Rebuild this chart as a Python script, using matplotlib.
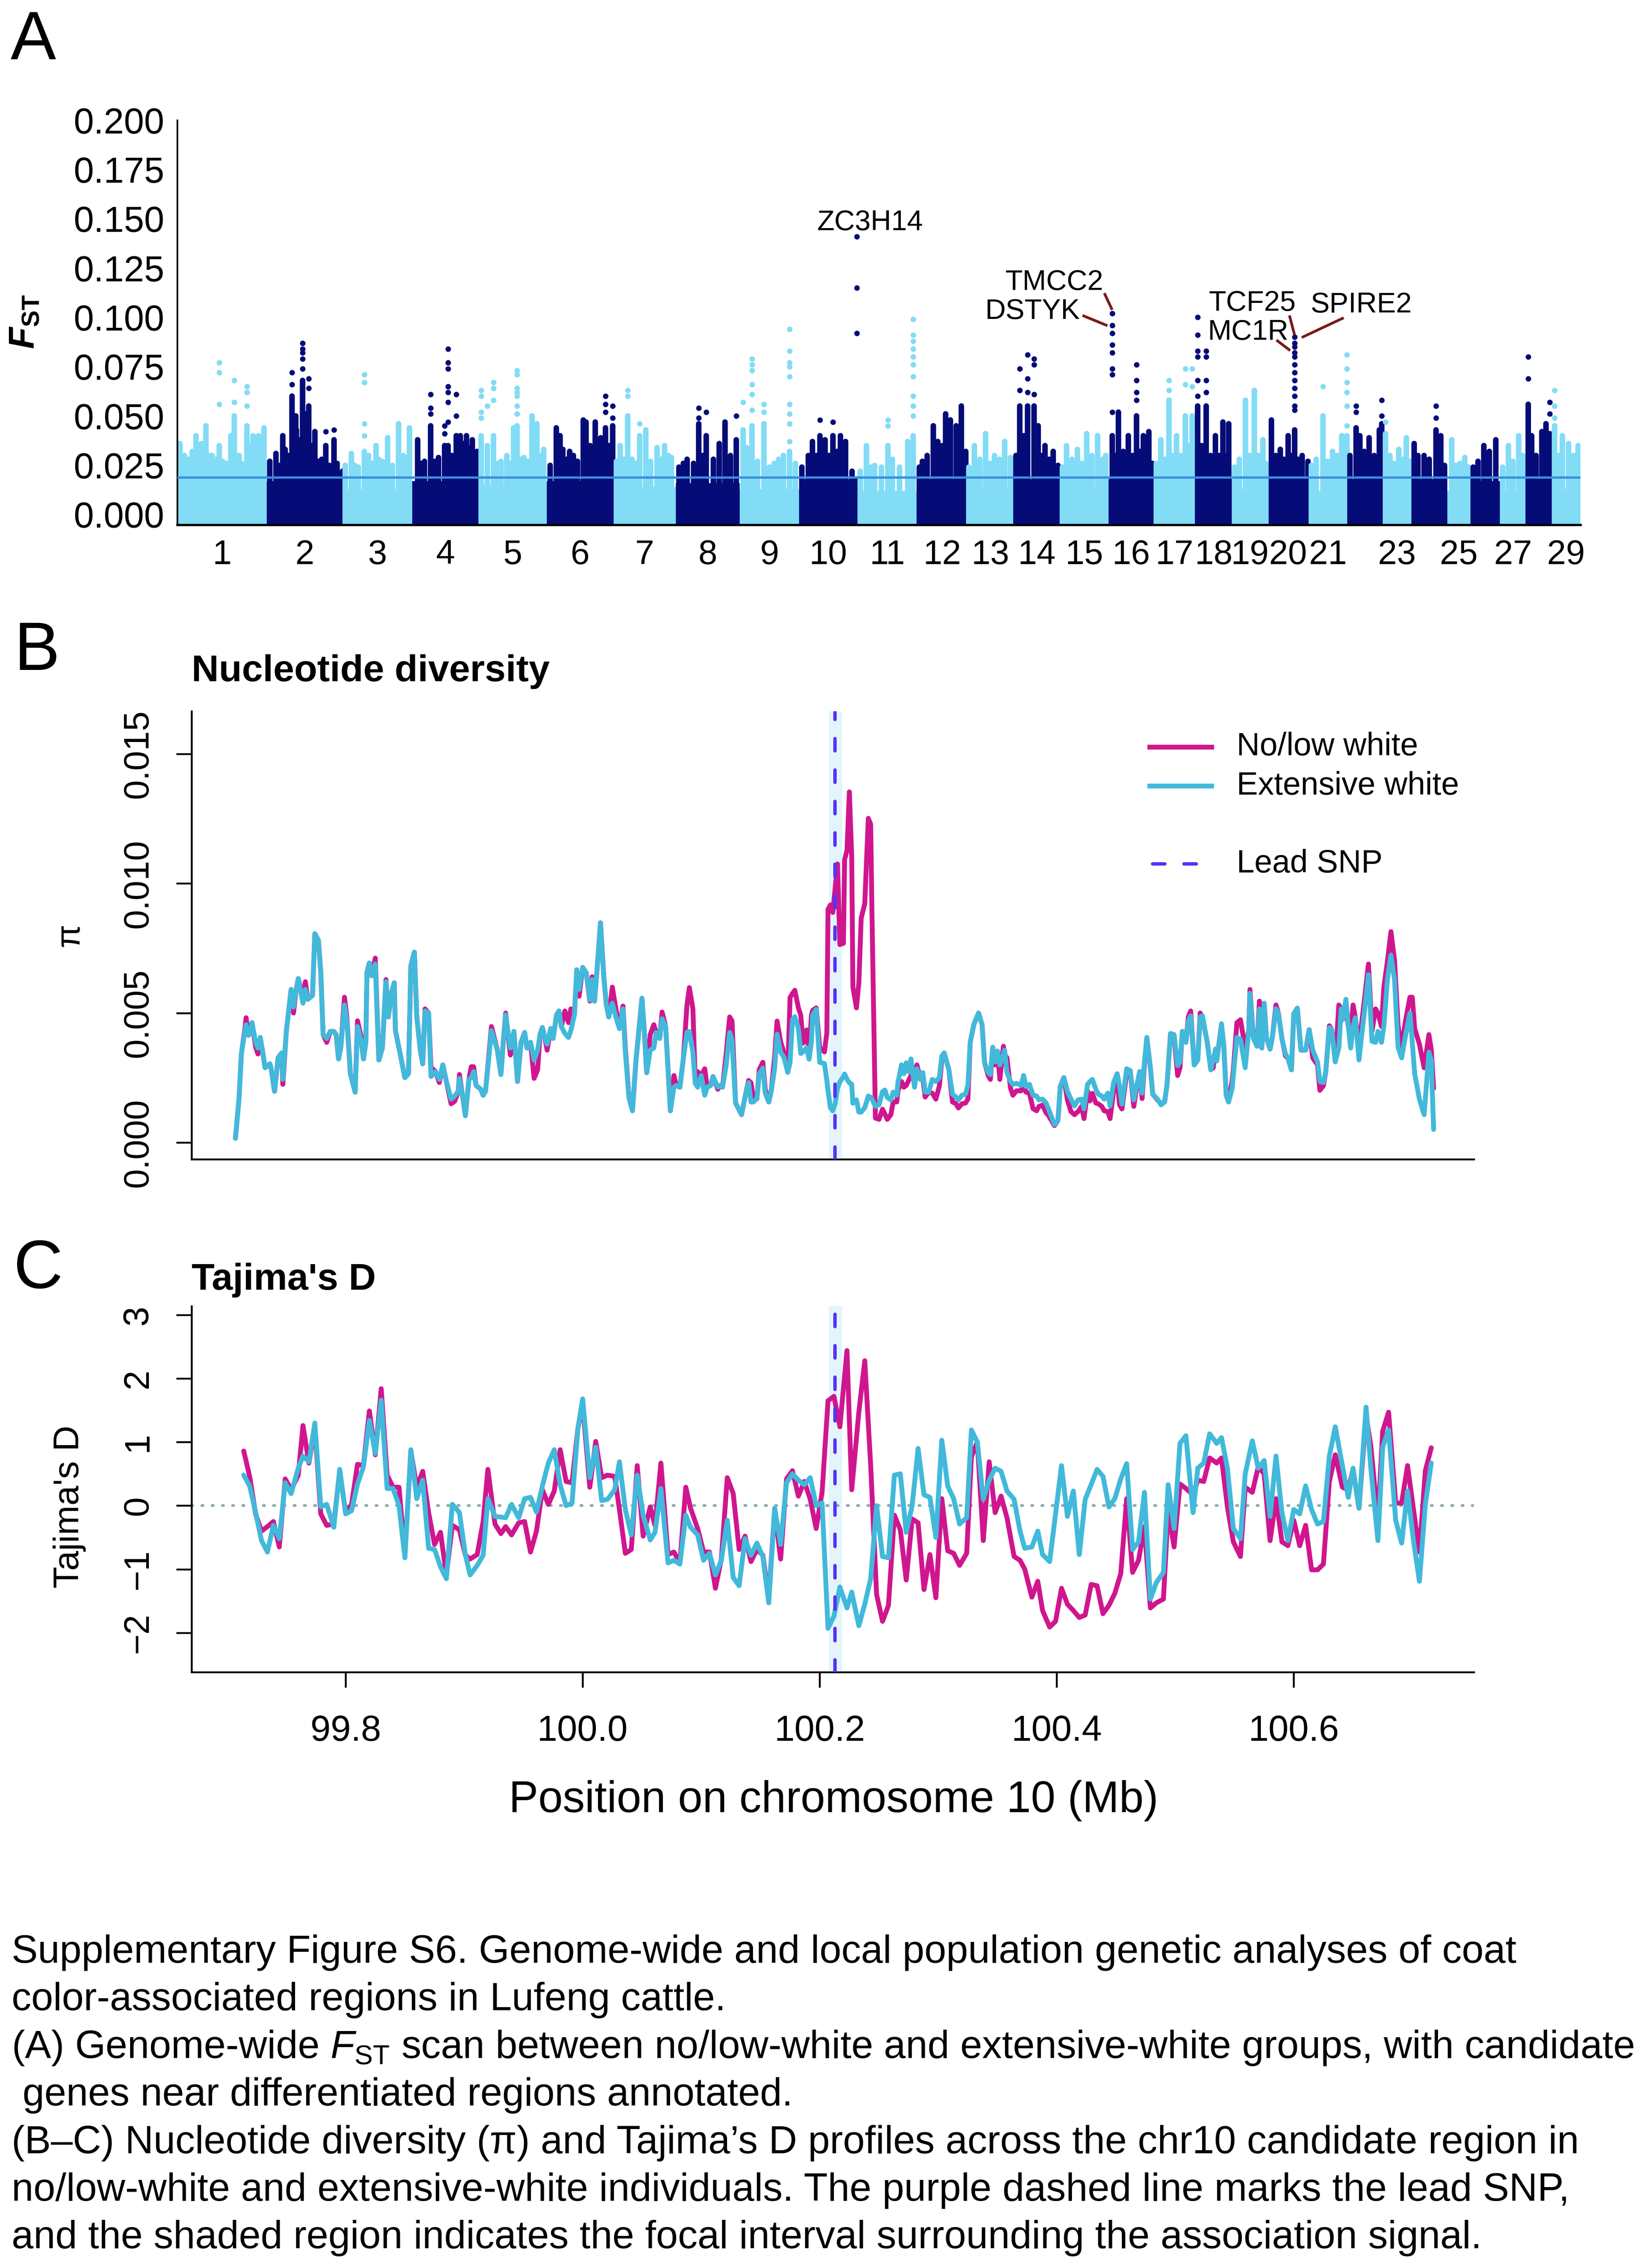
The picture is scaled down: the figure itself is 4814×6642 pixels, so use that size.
import numpy as np
import matplotlib
matplotlib.use("Agg")
import matplotlib.pyplot as plt

plt.rcParams['font.family'] = ['Liberation Sans', 'DejaVu Sans']
plt.rcParams['mathtext.fontset'] = 'custom'
plt.rcParams['mathtext.rm'] = 'Liberation Sans'
plt.rcParams['mathtext.it'] = 'Liberation Sans:italic'
plt.rcParams['mathtext.bf'] = 'Liberation Sans:bold:italic'
plt.rcParams['mathtext.sf'] = 'Liberation Sans:bold'

# ---------------- Panel A data: genome-wide FST ----------------
chr_names = ['1', '2', '3', '4', '5', '6', '7', '8', '9', '10', '11', '12', '13', '14', '15',
             '16', '17', '18', '19', '20', '21', '22', '23', '24', '25', '26', '27', '28', '29']
chr_shown = ['1', '2', '3', '4', '5', '6', '7', '8', '9', '10', '11', '12', '13', '14', '15',
             '16', '17', '18', '19', '20', '21', '23', '25', '27', '29']
chr_len = [158.5, 136.2, 121.0, 120.0, 120.1, 117.8, 110.7, 113.3, 105.5, 103.3, 106.9, 87.2,
           83.5, 82.4, 85.0, 81.0, 73.2, 65.8, 63.4, 71.9, 69.9, 61.0, 52.5, 62.3, 42.4, 52.0,
           45.6, 46.0, 51.1]
chr_base = [0.014, 0.017, 0.013, 0.017, 0.015, 0.017, 0.014, 0.016, 0.013, 0.018, 0.012, 0.018,
            0.013, 0.018, 0.013, 0.018, 0.013, 0.018, 0.013, 0.018, 0.012, 0.018, 0.013, 0.018,
            0.012, 0.017, 0.012, 0.018, 0.013]
fst_threshold = 0.0189

streak_frac = [
    [0.03, 0.08, 0.12, 0.17, 0.21, 0.27, 0.32, 0.36, 0.39, 0.43, 0.47, 0.51, 0.55, 0.60, 0.64, 0.69, 0.72, 0.78, 0.82, 0.85, 0.91, 0.97],
    [0.04, 0.12, 0.17, 0.21, 0.24, 0.28, 0.33, 0.38, 0.39, 0.43, 0.47, 0.50, 0.55, 0.58, 0.63, 0.68, 0.72, 0.77, 0.82, 0.88, 0.92, 0.99],
    [0.03, 0.12, 0.17, 0.22, 0.31, 0.37, 0.42, 0.48, 0.52, 0.57, 0.65, 0.72, 0.81, 0.88, 0.92, 0.97],
    [0.09, 0.14, 0.19, 0.28, 0.35, 0.40, 0.49, 0.54, 0.60, 0.66, 0.72, 0.77, 0.81, 0.86, 0.90, 0.97],
    [0.03, 0.12, 0.21, 0.27, 0.32, 0.41, 0.46, 0.51, 0.56, 0.61, 0.66, 0.72, 0.78, 0.85, 0.90, 0.95],
    [0.05, 0.14, 0.20, 0.24, 0.29, 0.34, 0.40, 0.46, 0.55, 0.59, 0.65, 0.73, 0.81, 0.88, 0.94, 0.99],
    [0.05, 0.11, 0.17, 0.23, 0.30, 0.36, 0.42, 0.52, 0.60, 0.70, 0.76, 0.82, 0.88, 0.93],
    [0.05, 0.12, 0.18, 0.28, 0.36, 0.42, 0.48, 0.59, 0.68, 0.77, 0.86, 0.95],
    [0.06, 0.12, 0.21, 0.30, 0.41, 0.50, 0.58, 0.66, 0.74, 0.84, 0.94],
    [0.05, 0.16, 0.23, 0.30, 0.36, 0.45, 0.52, 0.58, 0.65, 0.71, 0.80, 0.91, 0.99],
    [0.05, 0.15, 0.22, 0.29, 0.40, 0.51, 0.58, 0.70, 0.84, 0.93],
    [0.04, 0.10, 0.20, 0.32, 0.41, 0.50, 0.57, 0.67, 0.79, 0.89, 0.98],
    [0.05, 0.16, 0.28, 0.40, 0.50, 0.59, 0.70, 0.81, 0.93],
    [0.05, 0.13, 0.22, 0.30, 0.44, 0.53, 0.60, 0.67, 0.76, 0.85, 0.95],
    [0.05, 0.13, 0.25, 0.36, 0.45, 0.55, 0.66, 0.78, 0.88, 0.95],
    [0.09, 0.16, 0.23, 0.33, 0.44, 0.53, 0.62, 0.70, 0.77, 0.89, 0.97],
    [0.06, 0.17, 0.27, 0.37, 0.46, 0.55, 0.66, 0.77, 0.85, 0.93],
    [0.07, 0.18, 0.30, 0.42, 0.55, 0.65, 0.75, 0.84, 0.91],
    [0.07, 0.20, 0.37, 0.50, 0.62, 0.75, 0.86, 0.95],
    [0.09, 0.20, 0.31, 0.40, 0.50, 0.58, 0.66, 0.75, 0.85, 0.99],
    [0.08, 0.20, 0.37, 0.48, 0.61, 0.73, 0.85, 0.98],
    [0.06, 0.24, 0.35, 0.48, 0.62, 0.77, 0.92, 0.99],
    [0.11, 0.26, 0.40, 0.56, 0.70, 0.82, 0.94],
    [0.07, 0.18, 0.35, 0.50, 0.69, 0.83, 0.94],
    [0.21, 0.37, 0.55, 0.75, 0.90],
    [0.09, 0.25, 0.45, 0.63, 0.86],
    [0.10, 0.32, 0.50, 0.72, 0.89],
    [0.10, 0.23, 0.40, 0.62, 0.78, 0.93],
    [0.10, 0.25, 0.37, 0.59, 0.75, 0.92],
]
streak_top = [
    [0.036, 0.030, 0.028, 0.032, 0.040, 0.036, 0.045, 0.030, 0.030, 0.028, 0.035, 0.027, 0.026, 0.040, 0.050, 0.030, 0.026, 0.045, 0.035, 0.040, 0.040, 0.044],
    [0.027, 0.031, 0.025, 0.040, 0.033, 0.030, 0.060, 0.050, 0.043, 0.038, 0.068, 0.051, 0.055, 0.035, 0.042, 0.027, 0.028, 0.035, 0.025, 0.038, 0.026, 0.022],
    [0.025, 0.031, 0.025, 0.024, 0.032, 0.030, 0.026, 0.035, 0.028, 0.027, 0.039, 0.025, 0.046, 0.030, 0.029, 0.044],
    [0.038, 0.026, 0.027, 0.045, 0.027, 0.029, 0.035, 0.035, 0.030, 0.040, 0.040, 0.036, 0.040, 0.034, 0.038, 0.032],
    [0.040, 0.035, 0.040, 0.026, 0.027, 0.030, 0.026, 0.044, 0.045, 0.028, 0.029, 0.027, 0.050, 0.046, 0.030, 0.033],
    [0.025, 0.044, 0.040, 0.033, 0.028, 0.032, 0.030, 0.027, 0.048, 0.047, 0.035, 0.047, 0.039, 0.044, 0.035, 0.045],
    [0.027, 0.035, 0.028, 0.050, 0.028, 0.026, 0.040, 0.043, 0.027, 0.034, 0.028, 0.035, 0.030, 0.029],
    [0.024, 0.026, 0.028, 0.026, 0.046, 0.030, 0.040, 0.028, 0.036, 0.047, 0.030, 0.038],
    [0.043, 0.034, 0.045, 0.027, 0.046, 0.024, 0.026, 0.028, 0.030, 0.032, 0.026],
    [0.024, 0.030, 0.037, 0.030, 0.040, 0.038, 0.030, 0.040, 0.032, 0.040, 0.037, 0.022, 0.018],
    [0.022, 0.035, 0.024, 0.025, 0.024, 0.035, 0.028, 0.024, 0.037, 0.040],
    [0.024, 0.027, 0.030, 0.045, 0.037, 0.035, 0.051, 0.048, 0.045, 0.055, 0.032],
    [0.024, 0.035, 0.028, 0.041, 0.026, 0.030, 0.028, 0.037, 0.029],
    [0.030, 0.055, 0.040, 0.055, 0.055, 0.045, 0.030, 0.035, 0.028, 0.032, 0.025],
    [0.024, 0.035, 0.028, 0.033, 0.026, 0.041, 0.030, 0.040, 0.028, 0.030],
    [0.040, 0.030, 0.052, 0.032, 0.040, 0.030, 0.050, 0.032, 0.040, 0.042, 0.026],
    [0.026, 0.038, 0.028, 0.058, 0.030, 0.040, 0.030, 0.050, 0.035, 0.050],
    [0.055, 0.035, 0.055, 0.030, 0.040, 0.030, 0.047, 0.030, 0.046],
    [0.024, 0.028, 0.058, 0.030, 0.063, 0.030, 0.038, 0.026],
    [0.048, 0.030, 0.033, 0.028, 0.040, 0.030, 0.043, 0.028, 0.030, 0.027],
    [0.025, 0.028, 0.050, 0.027, 0.032, 0.030, 0.040, 0.040],
    [0.030, 0.044, 0.040, 0.032, 0.039, 0.030, 0.043, 0.046],
    [0.041, 0.030, 0.026, 0.033, 0.028, 0.039, 0.027],
    [0.036, 0.030, 0.030, 0.028, 0.043, 0.040, 0.025],
    [0.038, 0.025, 0.026, 0.029, 0.024],
    [0.024, 0.027, 0.035, 0.032, 0.038],
    [0.024, 0.035, 0.027, 0.040, 0.030],
    [0.056, 0.040, 0.030, 0.042, 0.046, 0.041],
    [0.045, 0.030, 0.040, 0.036, 0.030, 0.035],
]

# isolated high-FST SNPs (grouped by chromosome / relative position)
out_chr = [1, 1, 1, 2, 2, 2, 2, 2, 3, 4, 4, 4, 4, 5, 5, 5, 5, 6, 6, 7, 7, 8, 8, 8, 9, 9, 9, 9,
           10, 10, 10, 11, 11, 14, 14, 14, 16, 16, 17, 17, 17, 18, 18, 20, 21, 21, 22, 22,
           23, 24, 28, 28, 29]
out_frac = [0.47, 0.64, 0.78, 0.33, 0.47, 0.55, 0.77, 0.88, 0.31, 0.28, 0.49, 0.54, 0.66,
            0.03, 0.12, 0.21, 0.56, 0.88, 0.99, 0.23, 0.42, 0.36, 0.48, 0.95, 0.06, 0.21,
            0.41, 0.84, 0.36, 0.58, 0.995, 0.51, 0.93, 0.13, 0.30, 0.44, 0.09, 0.62, 0.37,
            0.77, 0.93, 0.07, 0.30, 0.66, 0.37, 0.98, 0.24, 0.99, 0.11, 0.69, 0.10, 0.93, 0.10]
out_fst = [
    [0.077, 0.072, 0.056], [0.068, 0.057], [0.065, 0.062, 0.055],
    [0.072, 0.066], [0.087, 0.084, 0.082, 0.079, 0.074], [0.069, 0.064], [0.042], [0.043],
    [0.071, 0.067, 0.046, 0.040],
    [0.061, 0.054, 0.051], [0.045, 0.041], [0.084, 0.077, 0.074, 0.065, 0.062, 0.057, 0.047], [0.061, 0.050],
    [0.063, 0.060, 0.052, 0.049], [0.055], [0.067, 0.064, 0.058], [0.073, 0.071, 0.064, 0.062, 0.060, 0.055, 0.051],
    [0.060, 0.056, 0.052], [0.055, 0.049],
    [0.063, 0.060], [0.046],
    [0.054, 0.049], [0.052], [0.050],
    [0.057], [0.079, 0.076, 0.073, 0.066, 0.061, 0.053], [0.056, 0.052],
    [0.094, 0.083, 0.077, 0.075, 0.070, 0.056, 0.051, 0.046, 0.037],
    [0.048], [0.047], [0.141, 0.115, 0.092],
    [0.048, 0.045], [0.099, 0.091, 0.088, 0.084, 0.080, 0.076, 0.070, 0.060, 0.055, 0.050],
    [0.074, 0.063], [0.081, 0.069, 0.062], [0.079, 0.076, 0.061],
    [0.102, 0.096, 0.092, 0.086, 0.082, 0.074, 0.071, 0.052], [0.076, 0.068, 0.062, 0.058],
    [0.068, 0.063], [0.074, 0.066], [0.074, 0.065],
    [0.100, 0.091, 0.083, 0.080, 0.068, 0.060], [0.083, 0.080, 0.068, 0.062],
    [0.090, 0.087, 0.085, 0.082, 0.080, 0.076, 0.072, 0.068, 0.064, 0.060, 0.055, 0.053],
    [0.065], [0.081, 0.074, 0.067, 0.062, 0.055, 0.045],
    [0.055, 0.052], [0.058, 0.050],
    [0.047], [0.055, 0.049],
    [0.080, 0.069], [0.057, 0.051],
    [0.063, 0.055, 0.049],
]

# gene annotations: target SNP column, text offset (Mb) and leader line
ann_text = ['ZC3H14', 'TMCC2', 'DSTYK', 'TCF25', 'MC1R', 'SPIRE2']
ann_chr = [10, 16, 16, 20, 20, 20]
ann_frac = [0.995, 0.09, 0.09, 0.66, 0.66, 0.66]
ann_text_dx = [23.0, -103.0, -141.7, -75.1, -82.4, 118.1]
ann_text_y = [0.1480, 0.1177, 0.1031, 0.1071, 0.0925, 0.1064]
ann_line = [None, (-13.9, 0.1123, 0.0, 0.1038), (-52.7, 0.1010, -8.5, 0.0958),
            (-9.1, 0.1010, 0.0, 0.0911), (-32.1, 0.0885, -7.9, 0.0832),
            (87.2, 0.0998, 12.7, 0.0898)]

# ---------------- Panel B data: nucleotide diversity (x 1e-3) ----------------
pi_pos = [
    99.707, 99.710, 99.712, 99.715, 99.716, 99.718, 99.720, 99.721, 99.724, 99.726,
    99.728, 99.730, 99.732, 99.736, 99.737, 99.740, 99.743, 99.746, 99.747, 99.750,
    99.754, 99.756, 99.758, 99.760, 99.764, 99.766, 99.768, 99.772, 99.774, 99.777,
    99.779, 99.781, 99.784, 99.787, 99.790, 99.792, 99.794, 99.796, 99.799, 99.801,
    99.804, 99.808, 99.810, 99.813, 99.815, 99.817, 99.818, 99.820, 99.822, 99.825,
    99.828, 99.831, 99.834, 99.836, 99.839, 99.841, 99.842, 99.845, 99.848, 99.850,
    99.853, 99.855, 99.858, 99.860, 99.863, 99.865, 99.867, 99.870, 99.872, 99.876,
    99.879, 99.882, 99.885, 99.889, 99.892, 99.895, 99.896, 99.899, 99.901, 99.904,
    99.906, 99.908, 99.910, 99.914, 99.916, 99.918, 99.923, 99.928, 99.931, 99.933,
    99.935, 99.939, 99.942, 99.945, 99.948, 99.951, 99.953, 99.956, 99.959, 99.962,
    99.964, 99.966, 99.968, 99.970, 99.973, 99.975, 99.978, 99.980, 99.982, 99.985,
    99.988, 99.990, 99.993, 99.995, 99.997, 100.000, 100.003, 100.006, 100.008, 100.010,
    100.013, 100.015, 100.018, 100.020, 100.022, 100.025, 100.028, 100.031, 100.034, 100.036,
    100.039, 100.042, 100.045, 100.050, 100.052, 100.054, 100.057, 100.060, 100.062, 100.065,
    100.067, 100.070, 100.074, 100.077, 100.079, 100.082, 100.085, 100.088, 100.090, 100.093,
    100.095, 100.097, 100.100, 100.103, 100.105, 100.108, 100.110, 100.114, 100.116, 100.118,
    100.121, 100.124, 100.126, 100.129, 100.134, 100.137, 100.140,
    100.142, 100.144, 100.147, 100.149, 100.152, 100.154, 100.157, 100.159, 100.162, 100.164,
    100.167, 100.170, 100.173, 100.175, 100.177, 100.179, 100.182, 100.184, 100.186, 100.189,
    100.191, 100.193, 100.194, 100.197, 100.200, 100.204, 100.206, 100.207, 100.209, 100.211,
    100.213, 100.215, 100.217, 100.220, 100.221, 100.223, 100.225, 100.227, 100.228, 100.231,
    100.233, 100.235, 100.238, 100.241, 100.243, 100.244, 100.247, 100.250, 100.253, 100.255,
    100.257,
    100.260, 100.262, 100.265, 100.266, 100.269, 100.271, 100.273, 100.275, 100.277, 100.280,
    100.282, 100.285, 100.287, 100.289, 100.292, 100.295, 100.298, 100.301, 100.303, 100.305,
    100.309, 100.312, 100.315, 100.317, 100.320, 100.323, 100.325, 100.327, 100.330, 100.334,
    100.337, 100.339, 100.342, 100.344, 100.346, 100.348, 100.350, 100.352, 100.355, 100.356,
    100.358, 100.361, 100.363, 100.366, 100.370, 100.372, 100.374, 100.377, 100.380, 100.383,
    100.385, 100.388, 100.391, 100.393, 100.398, 100.401, 100.403, 100.406, 100.409, 100.412,
    100.415, 100.418, 100.421, 100.423, 100.426, 100.428, 100.430, 100.433, 100.435, 100.438,
    100.440, 100.443, 100.445, 100.448, 100.451, 100.453, 100.455, 100.459, 100.462, 100.465,
    100.467, 100.470, 100.472, 100.474, 100.476, 100.479, 100.481, 100.485, 100.488, 100.491,
    100.493, 100.496, 100.499, 100.502, 100.504, 100.506, 100.509, 100.511, 100.513, 100.516,
    100.519, 100.521, 100.523, 100.526, 100.527, 100.530, 100.532, 100.534, 100.535, 100.537,
    100.539, 100.541, 100.543, 100.545, 100.548, 100.549, 100.552, 100.555, 100.559, 100.562,
    100.563, 100.566, 100.569, 100.571, 100.573, 100.575, 100.577, 100.580, 100.582, 100.585,
    100.587, 100.590, 100.593, 100.595, 100.598, 100.600, 100.603, 100.606, 100.610, 100.613,
    100.616, 100.620, 100.622, 100.625, 100.627, 100.630, 100.632, 100.635, 100.638, 100.640,
    100.641, 100.644, 100.646, 100.648, 100.650, 100.652, 100.655, 100.660, 100.663, 100.666,
    100.669, 100.671, 100.674, 100.676, 100.679, 100.682, 100.685, 100.688, 100.691, 100.694,
    100.698, 100.700, 100.702, 100.706, 100.710, 100.714, 100.716, 100.718,
]
pi_ext = [
    0.17, 1.68, 3.42, 4.32, 4.55, 4.14, 4.32, 4.63, 3.87, 3.65,
    4.06, 3.49, 2.89, 3.04, 2.89, 1.98, 3.27, 3.46, 2.44, 4.32,
    5.91, 5.23, 5.83, 6.33, 5.38, 5.91, 5.53, 5.68, 8.06, 7.80,
    6.59, 4.17, 4.02, 4.29, 4.29, 4.17, 3.23, 3.72, 5.31, 4.70,
    2.66, 1.95, 4.48, 3.95, 3.23, 3.87, 6.59, 6.93, 6.44, 6.89,
    3.19, 3.65, 6.21, 4.85, 5.83, 6.17, 4.32, 3.65, 2.97, 2.51,
    2.66, 6.82, 7.35, 4.85, 3.57, 3.04, 5.08, 5.00, 2.55, 2.74,
    2.44, 3.00, 2.36, 1.68, 1.80, 1.98, 2.48, 1.68, 1.04, 2.44,
    2.51, 2.74, 2.21, 2.06, 1.83, 1.98, 4.32, 3.57, 2.63, 3.87,
    4.93, 3.65, 4.29, 2.36, 3.87, 4.25, 3.65, 3.87, 3.19, 3.57,
    4.17, 4.44, 4.06, 3.80, 4.40, 4.02, 4.93, 5.08, 4.48, 4.21,
    4.06, 4.32, 4.93, 6.67, 5.91, 6.76, 6.55, 5.50, 6.29, 5.46,
    7.19, 8.48, 6.29, 5.31, 4.85, 5.38, 4.85, 4.40, 5.16, 3.49,
    1.76, 1.23, 3.19, 5.57, 4.32, 2.70, 3.57, 3.65, 4.25, 4.02,
    4.78, 4.48, 1.23, 2.14, 2.21, 2.14, 3.27, 4.25, 4.29, 3.49,
    2.29, 2.14, 2.59, 1.83, 2.14, 2.21, 2.55, 2.14, 2.21, 2.14,
    2.97, 4.25, 3.95, 1.53, 1.08, 1.76, 2.32,
    1.57, 1.57, 1.70, 2.65, 2.88, 1.91, 1.57, 1.97, 2.88, 4.18,
    3.50, 3.27, 2.71, 3.10, 4.75, 4.86, 4.41, 3.44, 3.50, 3.67,
    3.22, 3.90, 4.92, 5.14, 3.10, 3.05, 2.40, 2.00, 1.35, 1.23,
    1.50, 2.10, 2.35, 2.55, 2.65, 2.45, 2.31, 2.25, 1.52, 1.65,
    1.18, 1.18, 1.35, 1.80, 1.75, 1.69, 1.40, 1.46, 1.97, 2.03,
    1.74,
    1.65, 1.95, 1.83, 2.32, 3.00, 2.66, 3.08, 2.74, 3.23, 2.14,
    2.85, 2.44, 2.70, 1.95, 1.95, 2.44, 2.36, 2.51, 3.34, 3.46,
    2.81, 1.87, 1.76, 1.65, 1.83, 1.87, 2.21, 3.87, 4.55, 5.00,
    4.55, 3.12, 2.70, 2.63, 3.68, 3.12, 3.53, 3.00, 3.42, 3.57,
    2.70, 2.36, 2.25, 2.29, 2.21, 2.59, 2.17, 2.25, 1.83, 1.80,
    1.65, 1.68, 1.53, 1.31, 0.70, 0.85, 2.17, 2.51, 1.98, 1.68,
    1.42, 1.65, 1.68, 1.31, 2.25, 2.36, 2.44, 2.06, 1.87, 1.80,
    1.68, 1.91, 1.42, 2.32, 2.66, 2.17, 1.49, 2.85, 2.78, 1.65,
    2.10, 2.74, 1.91, 3.12, 4.06, 2.89, 1.87, 1.68, 1.46, 1.57,
    2.21, 4.21, 4.17, 2.97, 3.12, 4.29, 3.87, 4.70, 4.89, 3.00,
    3.19, 4.85, 4.89, 4.10, 3.87, 2.81, 3.19, 3.61, 3.16, 3.87,
    4.59, 3.72, 1.83, 1.57, 2.10, 2.59, 4.06, 3.99, 2.89, 4.32,
    5.76, 4.02, 3.72, 5.16, 3.65, 5.38, 4.02, 3.61, 4.10, 5.16,
    5.00, 4.02, 3.42, 3.27, 2.81, 4.97, 5.19, 3.57, 3.57, 4.36,
    3.57, 3.12, 2.36, 2.32, 2.74, 4.44, 4.36, 3.12, 3.65, 5.16,
    4.74, 5.53, 4.48, 3.65, 4.48, 4.82, 3.19, 5.23, 6.48, 3.91,
    3.87, 4.29, 3.87, 4.48, 6.29, 7.23, 6.29, 3.68, 3.27, 4.06,
    5.00, 3.87, 2.66, 1.68, 1.08, 3.49, 3.19, 0.51,
]
pi_low = [
    0.17, 1.68, 3.42, 4.40, 4.82, 4.14, 4.32, 4.63, 3.70, 3.42,
    4.00, 3.49, 2.89, 3.04, 2.89, 1.98, 3.27, 3.46, 2.25, 4.32,
    5.91, 5.00, 5.83, 6.33, 5.60, 6.21, 5.53, 5.68, 8.06, 7.80,
    6.59, 4.17, 3.87, 4.29, 4.29, 4.17, 3.23, 3.72, 5.61, 4.85,
    2.66, 1.95, 4.70, 4.10, 3.23, 3.87, 6.59, 6.93, 6.44, 7.12,
    3.19, 3.65, 6.29, 4.85, 5.83, 6.17, 4.32, 3.65, 2.97, 2.51,
    2.66, 6.82, 7.35, 4.85, 3.57, 3.04, 5.16, 5.00, 2.90, 2.74,
    2.32, 3.00, 2.36, 1.50, 1.60, 1.98, 2.63, 1.68, 1.04, 2.44,
    2.93, 2.93, 2.21, 2.06, 1.83, 1.98, 4.48, 3.57, 2.63, 3.87,
    5.00, 3.38, 4.29, 2.36, 3.87, 4.25, 3.65, 3.87, 2.48, 2.81,
    4.17, 4.44, 4.06, 3.57, 4.40, 4.02, 4.93, 5.08, 4.48, 5.08,
    4.63, 5.16, 4.93, 6.67, 5.65, 6.76, 6.55, 5.46, 6.40, 5.46,
    7.19, 8.48, 6.29, 5.31, 4.85, 6.00, 5.16, 4.40, 5.27, 3.65,
    1.76, 1.23, 3.19, 5.57, 4.32, 2.70, 4.17, 4.55, 4.25, 4.02,
    5.04, 4.48, 1.23, 2.59, 2.21, 2.14, 3.27, 5.31, 5.98, 5.16,
    2.29, 2.74, 2.59, 2.85, 2.14, 2.21, 2.55, 2.06, 2.21, 2.14,
    3.40, 4.85, 4.70, 1.53, 1.08, 1.76, 2.40,
    2.31, 1.74, 1.69, 2.82, 3.10, 2.08, 1.57, 1.97, 3.33, 4.69,
    3.90, 3.44, 2.76, 5.60, 5.75, 5.88, 5.20, 4.92, 3.84, 4.35,
    3.44, 4.92, 5.10, 5.20, 3.67, 3.50, 4.24, 9.00, 9.17, 8.88,
    9.79, 10.75, 7.64, 7.69, 10.92, 11.26, 13.53, 11.04, 5.99, 5.20,
    6.16, 8.66, 9.22, 12.51, 12.28, 9.11, 0.95, 0.90, 1.29, 1.10,
    0.90,
    1.08, 1.57, 1.57, 2.00, 2.36, 2.14, 2.21, 2.40, 2.59, 2.36,
    3.00, 2.44, 2.50, 1.76, 1.95, 1.91, 1.68, 2.20, 3.20, 3.46,
    2.81, 1.57, 1.50, 1.34, 1.50, 1.53, 1.68, 3.87, 4.55, 5.00,
    4.55, 3.12, 2.60, 2.44, 3.68, 3.00, 3.53, 2.44, 3.72, 3.40,
    3.27, 2.10, 1.83, 2.00, 2.00, 2.40, 1.95, 1.90, 1.31, 1.23,
    1.40, 1.45, 1.15, 1.05, 0.66, 0.85, 2.17, 2.51, 1.65, 1.20,
    1.08, 1.20, 1.40, 0.93, 2.00, 1.61, 1.90, 1.53, 1.50, 1.40,
    1.23, 1.20, 0.93, 2.00, 2.40, 1.46, 1.30, 2.66, 2.78, 1.40,
    2.00, 2.74, 1.70, 3.00, 4.02, 2.89, 1.87, 1.65, 1.50, 1.57,
    2.21, 4.21, 4.10, 2.59, 2.90, 4.29, 3.87, 4.85, 5.08, 3.00,
    3.19, 5.00, 4.80, 4.10, 3.87, 2.81, 2.89, 3.61, 3.16, 3.87,
    4.55, 3.72, 1.83, 1.57, 2.40, 2.80, 4.63, 4.74, 3.65, 4.32,
    5.91, 4.02, 3.72, 5.46, 3.65, 5.38, 4.02, 3.61, 4.10, 5.31,
    5.00, 4.02, 3.34, 3.27, 2.81, 4.97, 5.19, 3.57, 3.57, 4.36,
    3.27, 3.00, 2.02, 2.20, 2.74, 4.51, 4.36, 3.12, 5.31, 5.16,
    4.89, 5.10, 4.48, 4.20, 5.31, 4.82, 3.70, 5.68, 6.89, 4.30,
    5.16, 5.00, 4.48, 6.00, 7.00, 8.14, 7.04, 4.50, 3.65, 4.63,
    5.61, 5.61, 4.40, 3.80, 2.89, 4.17, 3.60, 2.10,
]

# ---------------- Panel C data: Tajima's D ----------------
td_pos = [
    99.714, 99.719, 99.724, 99.729, 99.734, 99.739, 99.744, 99.749, 99.754, 99.760,
    99.764, 99.769, 99.774, 99.779, 99.784, 99.790, 99.795, 99.800, 99.805, 99.810,
    99.815, 99.820, 99.825, 99.830, 99.835, 99.840, 99.845, 99.850, 99.855, 99.860,
    99.865, 99.870, 99.875, 99.880, 99.885, 99.890, 99.896, 99.901, 99.905, 99.911,
    99.916, 99.920, 99.926, 99.931, 99.935, 99.940, 99.946, 99.951, 99.956, 99.961,
    99.966, 99.971, 99.976, 99.981, 99.986, 99.991, 99.996, 100.000, 100.006, 100.011,
    100.016, 100.021, 100.027, 100.031, 100.036, 100.041, 100.046, 100.051, 100.057, 100.061,
    100.066, 100.072, 100.077, 100.082, 100.087, 100.091, 100.097, 100.102, 100.107, 100.112,
    100.117, 100.122, 100.127, 100.132, 100.137, 100.142, 100.147, 100.152, 100.157, 100.162,
    100.167, 100.172, 100.177, 100.182, 100.187, 100.192, 100.197, 100.202, 100.207, 100.212,
    100.217, 100.223, 100.227, 100.233, 100.238, 100.243, 100.248, 100.253, 100.258, 100.263,
    100.268, 100.273, 100.278, 100.283, 100.288, 100.293, 100.298, 100.303, 100.308, 100.313,
    100.318, 100.324, 100.328, 100.333, 100.338, 100.343, 100.348, 100.353, 100.358, 100.364,
    100.369, 100.373, 100.379, 100.384, 100.388, 100.394, 100.399, 100.404, 100.409, 100.414,
    100.419, 100.424, 100.429, 100.434, 100.439, 100.444, 100.449, 100.454, 100.459, 100.464,
    100.469, 100.474, 100.479, 100.484, 100.490, 100.494, 100.499, 100.504, 100.509, 100.515,
    100.519, 100.524, 100.529, 100.535, 100.539, 100.544, 100.549, 100.555, 100.559, 100.565,
    100.570, 100.575, 100.580, 100.585, 100.590, 100.595, 100.600, 100.605, 100.610, 100.615,
    100.620, 100.625, 100.630, 100.635, 100.641, 100.646, 100.650, 100.655, 100.661, 100.665,
    100.671, 100.675, 100.680, 100.686, 100.691, 100.696, 100.701, 100.706, 100.711, 100.716,
]
td_ext = [
    0.48, 0.31, -0.10, -0.55, -0.73, -0.31, -0.52, 0.36, 0.19, 0.59,
    0.78, 0.69, 1.30, -0.02, 0.02, -0.34, 0.57, -0.13, -0.08, 0.34,
    0.61, 1.34, 0.82, 1.66, 0.27, 0.27, 0.00, -0.82, 0.88, 0.11,
    0.40, -0.67, -0.69, -0.96, -1.15, 0.02, -0.11, -0.77, -1.09, -0.94,
    -0.78, 0.11, -0.17, -0.18, -0.19, 0.02, -0.19, 0.11, 0.13, -0.10,
    0.31, 0.67, 0.88, 0.33, 0.00, 0.04, 1.22, 1.68, 0.44, 0.92,
    0.08, 0.10, 0.25, 0.69, -0.06, -0.46, 0.48, -0.15, -0.54, -0.42,
    0.27, -0.90, -0.86, -0.92, -0.15, -0.34, -0.46, -0.86, -0.75, -1.09,
    -0.86, -0.23, -1.13, -1.26, -0.52, -0.78, -0.59, -0.80, -1.53, -0.04,
    -0.61, 0.36, 0.50, 0.40, 0.33, 0.44, 0.00, 0.04, -1.93, -1.74,
    -1.28, -1.61, -1.36, -1.89, -1.55, -1.15, 0.00, -0.80, -0.82, 0.48,
    0.50, -0.42, 0.00, 0.90, 0.17, 0.13, -0.50, 1.03, 0.31, 0.11,
    -0.29, -0.19, 1.19, 1.00, 0.10, 0.40, 0.59, 0.54, 0.23, 0.10,
    -0.40, -0.67, -0.65, -0.40, -0.77, -0.88, -0.13, 0.63, -0.17, 0.23,
    -0.77, 0.10, 0.33, 0.57, 0.46, -0.02, 0.11, 0.42, 0.66, -0.69,
    -0.57, 0.21, -1.47, -1.21, -1.05, 0.33, -0.36, 0.98, 1.10, -0.11,
    0.59, 0.67, 1.13, 0.98, 1.07, 0.59, -0.36, -0.52, 0.50, 1.02,
    0.59, 0.71, -0.17, 0.78, -0.11, -0.55, -0.06, -0.13, 0.31, -0.06,
    -0.29, -0.25, 0.78, 1.24, 0.63, 0.13, 0.59, -0.04, 1.55, 0.59,
    -0.55, 0.92, 1.19, -0.23, -0.59, 0.23, -0.55, -1.19, 0.02, 0.67,
]
td_low = [
    0.86, 0.46, -0.13, -0.40, -0.33, -0.25, -0.65, 0.42, 0.25, 0.48,
    1.26, 0.67, 1.24, -0.13, -0.31, -0.29, 0.55, -0.11, 0.02, 0.65,
    0.63, 1.49, 0.80, 1.84, 0.48, 0.29, 0.29, -0.77, 0.86, 0.29,
    0.54, -0.11, -0.61, -0.42, -1.09, -0.31, -0.38, -0.78, -0.84, -0.77,
    -0.25, 0.57, -0.29, -0.44, -0.33, -0.46, -0.27, -0.25, -0.73, -0.40,
    0.25, 0.02, 0.23, 0.88, 0.38, 0.36, 1.22, 1.59, 0.29, 1.01,
    0.44, 0.48, 0.46, -0.06, -0.75, -0.69, 0.63, -0.48, -0.02, -0.31,
    0.67, -0.77, -0.73, -0.90, 0.29, -0.04, -0.36, -0.73, -0.73, -1.30,
    -0.84, 0.44, 0.19, -0.69, -0.48, -0.88, -0.69, -0.78, -1.44, -0.06,
    -0.84, 0.42, 0.55, 0.15, 0.38, 0.10, -0.36, 0.21, 1.65, 1.72,
    1.24, 2.44, 0.25, 1.47, 2.28, 0.63, -1.40, -1.82, -1.57, -0.15,
    -0.38, -1.17, -0.21, -0.27, -1.32, -0.77, -1.45, 0.11, -0.71, -0.75,
    -0.94, -0.75, 0.77, 1.00, -0.55, 0.69, -0.11, 0.15, -0.19, -0.80,
    -0.86, -1.00, -1.44, -1.19, -1.65, -1.91, -1.82, -1.30, -1.55, -1.65,
    -1.76, -1.72, -1.24, -1.26, -1.70, -1.57, -1.38, -1.07, 0.11, -1.05,
    -0.86, -0.33, -1.61, -1.53, -1.47, -0.08, -0.65, 0.34, 0.27, 0.17,
    0.40, 0.38, 0.75, 0.67, 0.75, -0.02, -0.57, -0.80, 0.29, 0.21,
    0.61, 0.50, -0.55, 0.11, -0.57, -0.63, -0.23, -0.63, -0.31, -1.01,
    -1.01, -0.92, 0.38, 0.80, 0.29, 0.25, 0.57, -0.04, 1.42, 0.94,
    -0.23, 1.17, 1.47, 0.04, 0.04, 0.63, -0.06, -0.73, 0.55, 0.91,
]

lead_snp = 100.213
focal_interval = (100.2078, 100.2188)

caption_lines = [
    "Supplementary Figure S6. Genome-wide and local population genetic analyses of coat",
    "color-associated regions in Lufeng cattle.",
    r"(A) Genome-wide $\mathit{F}_{\mathrm{ST}}$ scan between no/low-white and extensive-white groups, with candidate",
    " genes near differentiated regions annotated.",
    "(B\u2013C) Nucleotide diversity (\u03c0) and Tajima\u2019s D profiles across the chr10 candidate region in",
    "no/low-white and extensive-white individuals. The purple dashed line marks the lead SNP,",
    "and the shaded region indicates the focal interval surrounding the association signal.",
]

# ---------------- styling ----------------
W, H, DPI = 4814, 6642, 300
LIGHT = '#82DCF5'
DARK = '#050C78'
MAG = '#D0168F'
CYAN = '#42B9DA'
LEADC = '#5533F5'
SHADE = '#E3F4FB'
LW = 3.4


def rect(left, top, right, bottom):
    return [left / W, 1 - bottom / H, (right - left) / W, (bottom - top) / H]


fig = plt.figure(figsize=(W / DPI, H / DPI), dpi=DPI)

# ================= Panel A =================
axA = fig.add_axes(rect(519, 352, 4628, 1537))
clen = np.array(chr_len)
cstart = np.concatenate([[0.0], np.cumsum(clen)[:-1]])
total = clen.sum()
YB = -0.0052
axA.set_xlim(0, total)
axA.set_ylim(YB, 0.200)

for i in range(len(chr_len)):
    col = LIGHT if i % 2 == 0 else DARK
    axA.bar(cstart[i], chr_base[i] - YB, width=clen[i], bottom=YB, align='edge',
            color=col, lw=0, zorder=1)
    xs = cstart[i] + np.array(streak_frac[i]) * clen[i]
    lc = axA.vlines(xs, YB, streak_top[i], colors=col, lw=3.9, zorder=2)
    lc.set_capstyle('round')

for c, f, vals in zip(out_chr, out_frac, out_fst):
    col = LIGHT if (c - 1) % 2 == 0 else DARK
    x = cstart[c - 1] + f * clen[c - 1]
    axA.scatter([x] * len(vals), vals, s=15, color=col, lw=0, zorder=3)

axA.axhline(fst_threshold, color='#3A8EE0', lw=1.6, zorder=4)

for t, c, f, dx, ty, ln in zip(ann_text, ann_chr, ann_frac, ann_text_dx, ann_text_y, ann_line):
    x0 = cstart[c - 1] + f * clen[c - 1]
    axA.text(x0 + dx, ty, t, ha='center', va='center', fontsize=20, zorder=6)
    if ln is not None:
        axA.plot([x0 + ln[0], x0 + ln[2]], [ln[1], ln[3]], color='#7B1A1A', lw=1.9,
                 solid_capstyle='butt', zorder=6)

for s in ['top', 'right']:
    axA.spines[s].set_visible(False)
axA.spines['left'].set_linewidth(1.2)
axA.spines['bottom'].set_linewidth(1.6)
yt = [0.000, 0.025, 0.050, 0.075, 0.100, 0.125, 0.150, 0.175, 0.200]
axA.set_yticks(yt)
axA.set_yticklabels(['%.3f' % v for v in yt])
centers = {n: cstart[i] + clen[i] / 2 for i, n in enumerate(chr_names)}
axA.set_xticks([centers[n] for n in chr_shown])
axA.set_xticklabels(chr_shown)
axA.tick_params(axis='y', length=0, pad=9, labelsize=25.5)
axA.tick_params(axis='x', length=0, pad=10, labelsize=24)
for lab in axA.get_xticklabels():
    lab.set_fontfamily(['Liberation Sans Narrow', 'Liberation Sans'])

fig.text(73 / W, 1 - 943 / H, r'$\mathbf{F}_{\mathsf{ST}}$', rotation=90, fontsize=25,
         ha='center', va='center')

# ================= Panel B =================
axB = fig.add_axes(rect(561, 2083, 4316, 3395))
axB.set_xlim(99.670, 100.752)
axB.set_ylim(-0.00064, 0.01664)
axB.axvspan(focal_interval[0], focal_interval[1], color=SHADE, lw=0, zorder=0)
axB.plot(pi_pos, np.array(pi_low) * 1e-3, color=MAG, lw=LW, solid_joinstyle='round',
         solid_capstyle='round', zorder=2)
axB.plot(pi_pos, np.array(pi_ext) * 1e-3, color=CYAN, lw=LW, solid_joinstyle='round',
         solid_capstyle='round', zorder=3)
axB.axvline(lead_snp, color=LEADC, lw=2.4, linestyle=(0, (3.6, 5.6)),
            dash_capstyle='round', zorder=4)
for s in ['top', 'right']:
    axB.spines[s].set_visible(False)
for s in ['left', 'bottom']:
    axB.spines[s].set_linewidth(1.3)
axB.set_xticks([])
ytB = [0.000, 0.005, 0.010, 0.015]
axB.set_yticks(ytB)
axB.set_yticklabels(['%.3f' % v for v in ytB], rotation=90, va='center')
axB.tick_params(axis='y', length=10.8, width=1.3, pad=15, labelsize=25)

# legend (drawn manually in axes fraction)
axB.plot([0.7474, 0.7956], [0.920, 0.920], transform=axB.transAxes, color=MAG, lw=LW)
axB.plot([0.7474, 0.7956], [0.833, 0.833], transform=axB.transAxes, color=CYAN, lw=LW)
axB.plot([0.7494, 0.7848], [0.659, 0.659], transform=axB.transAxes, color=LEADC, lw=2.4,
         linestyle=(0, (3.6, 5.6)), dash_capstyle='round')
for yy, t in zip([0.920, 0.833, 0.659], ['No/low white', 'Extensive white', 'Lead SNP']):
    axB.text(0.815, yy, t, transform=axB.transAxes, fontsize=22.5, va='center', ha='left')

fig.text(561 / W, 1 - 1995 / H, 'Nucleotide diversity', fontsize=26.5, fontweight='bold',
         ha='left', va='baseline')
fig.text(204 / W, 1 - 2739 / H, '\u03c0', fontsize=24, rotation=90, ha='center', va='center')

# ================= Panel C =================
axC = fig.add_axes(rect(561, 3825, 4316, 4897))
axC.set_xlim(99.670, 100.752)
axC.set_ylim(-2.62, 3.14)
axC.axvspan(focal_interval[0], focal_interval[1], color=SHADE, lw=0, zorder=0)
axC.axhline(0, color='#8FAEAD', lw=2.0, linestyle=(0, (0.4, 3.2)), dash_capstyle='round',
            zorder=1)
axC.plot(td_pos, td_low, color=MAG, lw=LW, solid_joinstyle='round', solid_capstyle='round',
         zorder=2)
axC.plot(td_pos, td_ext, color=CYAN, lw=LW, solid_joinstyle='round', solid_capstyle='round',
         zorder=3)
axC.axvline(lead_snp, color=LEADC, lw=2.4, linestyle=(0, (3.6, 5.6)),
            dash_capstyle='round', zorder=4)
for s in ['top', 'right']:
    axC.spines[s].set_visible(False)
for s in ['left', 'bottom']:
    axC.spines[s].set_linewidth(1.3)
xtC = [99.8, 100.0, 100.2, 100.4, 100.6]
axC.set_xticks(xtC)
axC.set_xticklabels(['%.1f' % v for v in xtC])
ytC = [-2, -1, 0, 1, 2, 3]
axC.set_yticks(ytC)
axC.set_yticklabels(['\u22122', '\u22121', '0', '1', '2', '3'], rotation=90, va='center')
axC.tick_params(axis='y', length=10.8, width=1.3, pad=15, labelsize=25)
axC.tick_params(axis='x', length=10.8, width=1.3, pad=19, labelsize=25.5)

fig.text(561 / W, 1 - 3777 / H, "Tajima's D", fontsize=26.5, fontweight='bold',
         ha='left', va='baseline')
fig.text(204 / W, 1 - 4413 / H, "Tajima's D", fontsize=25, rotation=90, ha='center',
         va='center')
fig.text(2441 / W, 1 - 5274 / H, 'Position on chromosome 10 (Mb)', fontsize=31,
         ha='center', va='center')

# panel letters
fig.text(31 / W, 1 - 173 / H, 'A', fontsize=48, ha='left', va='baseline')
fig.text(42 / W, 1 - 1962 / H, 'B', fontsize=48, ha='left', va='baseline')
fig.text(40 / W, 1 - 3772 / H, 'C', fontsize=48, ha='left', va='baseline')

# caption
for k, line in enumerate(caption_lines):
    fig.text(34 / W, 1 - (5748 + 139.4 * k) / H, line, fontsize=27.6, ha='left', va='baseline')

fig.savefig('out.png', dpi=DPI)
